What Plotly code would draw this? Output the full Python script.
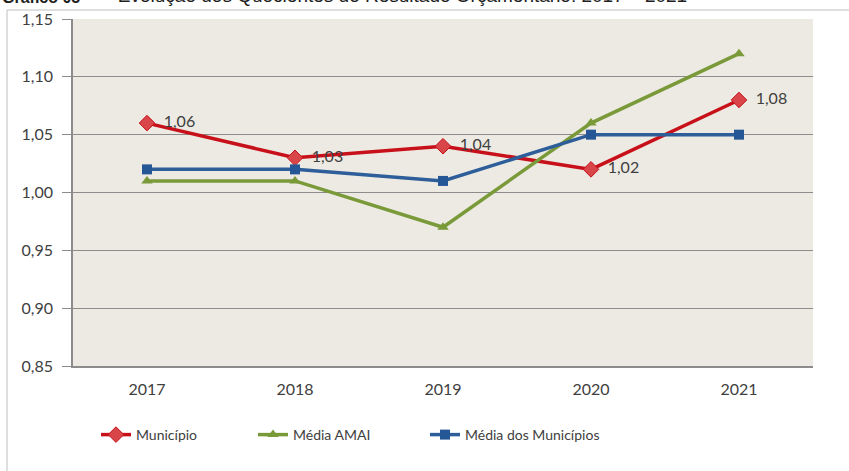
import plotly.graph_objects as go

years = ["2017", "2018", "2019", "2020", "2021"]
municipio = [1.06, 1.03, 1.04, 1.02, 1.08]
media_amai = [1.01, 1.01, 0.97, 1.06, 1.12]
media_municipios = [1.02, 1.02, 1.01, 1.05, 1.05]
municipio_labels = ["1,06", "1,03", "1,04", "1,02", "1,08"]
y_ticks = [0.85, 0.90, 0.95, 1.00, 1.05, 1.10, 1.15]

FONT = "Lato"
TXT = "#404040"
PAD = "\u00a0\u00a0"

fig = go.Figure()
fig.add_trace(go.Scatter(
    x=years, y=municipio, name="Município", mode="lines+markers+text",
    line=dict(color="#C8101A", width=3.5),
    marker=dict(symbol="diamond", size=12, color="#D9464A", line=dict(color="#C8101A", width=1)),
    text=[PAD + t for t in municipio_labels], textposition="middle right",
    textfont=dict(family=FONT, size=16, color=TXT),
    legend="legend",
))
fig.add_trace(go.Scatter(
    x=years, y=media_amai, name="Média AMAI", mode="lines+markers",
    line=dict(color="#7A9A3A", width=3.5),
    marker=dict(symbol="triangle-up", size=10, color="#7A9A3A"),
    legend="legend2",
))
fig.add_trace(go.Scatter(
    x=years, y=media_municipios, name="Média dos Municípios", mode="lines+markers",
    line=dict(color="#2D5E9A", width=3.5),
    marker=dict(symbol="square", size=10, color="#255696"),
    legend="legend3",
))

L, R, T, B = 73, 813, 19, 366
W, H = 849, 471
pw, ph = R - L, B - T

def px(x):
    return (x - L) / pw

def py(y):
    return (B - y) / ph

legend_common = dict(orientation="h", yanchor="middle", xanchor="left",
                     font=dict(family=FONT, size=14, color=TXT),
                     bgcolor="rgba(0,0,0,0)", itemwidth=30)

fig.update_layout(
    width=W, height=H,
    margin=dict(l=L, r=W - R, t=T, b=H - B, autoexpand=False),
    paper_bgcolor="white",
    plot_bgcolor="#ECEAE2",
    separators=", ",
    font=dict(family=FONT, color=TXT),
    showlegend=True,
    legend=dict(x=px(96), y=py(435), **legend_common),
    legend2=dict(x=px(253), y=py(435), **legend_common),
    legend3=dict(x=px(425), y=py(435), **legend_common),
    xaxis=dict(
        type="category", range=[-0.5, 4.5], automargin=False,
        showgrid=False, showline=True, linecolor="#8C8C8C", linewidth=1.5,
        ticks="", tickfont=dict(family=FONT, size=16, color=TXT),
        ticklabelstandoff=8, zeroline=False,
    ),
    yaxis=dict(
        range=[0.85, 1.15], tickvals=y_ticks, tickformat=".2f", automargin=False,
        showgrid=True, gridcolor="#8C8C8C", gridwidth=1,
        showline=True, linecolor="#8C8C8C", linewidth=1.5,
        ticks="outside", ticklen=9, tickcolor="#8C8C8C",
        tickfont=dict(family=FONT, size=16, color=TXT),
        ticklabelstandoff=6, zeroline=False,
    ),
    shapes=[dict(type="rect", xref="paper", yref="paper",
                 x0=px(7), x1=px(860), y0=py(480), y1=py(10),
                 line=dict(color="#BFBFBF", width=1), layer="below")],
    annotations=[
        dict(xref="paper", yref="paper", x=px(0), y=py(8), xanchor="left", yanchor="bottom",
             text="<b>Gráfico 05</b>", showarrow=False,
             font=dict(family="Liberation Sans", size=16, color="#202020")),
        dict(xref="paper", yref="paper", x=px(100), y=py(8), xanchor="left", yanchor="bottom",
             text="– Evolução dos Quocientes do Resultado Orçamentário: 2017 – 2021", showarrow=False,
             font=dict(family="Liberation Sans", size=19, color="#202020")),
    ],
)

fig.write_html("out.html", config={"displayModeBar": False},
               post_script="document.body.style.margin='0';")
